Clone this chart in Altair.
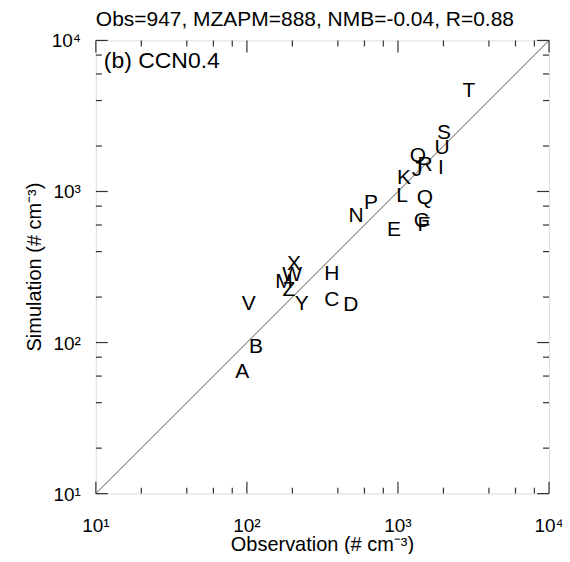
import altair as alt
import pandas as pd

# ---- data ----
site = list("ABCDEFGHIJKLMNOPQRSTUVWXYZ")
obs = [93, 115, 365, 488, 941, 1486, 1442, 365, 1927, 1336, 1096, 1063, 176,
       527, 1356, 663, 1510, 1510, 2018, 2953, 1956, 103, 199, 205, 231, 190]
sim = [64, 94, 190, 176, 552, 596, 633, 286, 1420, 1377, 1219, 927, 253,
       683, 1730, 833, 899, 1486, 2421, 4592, 1927, 181, 282, 329, 181, 224]

line_x = [10, 10000]
line_y = [10, 10000]

major_ticks = [10, 100, 1000, 10000]
tick_labels = ["10\u00b9", "10\u00b2", "10\u00b3", "10\u2074"]
minor_ticks = [20, 40, 60, 80, 200, 400, 600, 800, 2000, 4000, 6000, 8000]

title_text = "Obs=947, MZAPM=888, NMB=-0.04, R=0.88"
panel_label = "(b) CCN0.4"
x_title = "Observation (# cm\u207b\u00b3)"
y_title = "Simulation (# cm\u207b\u00b3)"

FONT = "Liberation Sans"
W, H = 454, 454
MAJ, MIN = 12, 6

pts = pd.DataFrame({"site": site, "obs": obs, "sim": sim})
ln = pd.DataFrame({"obs": line_x, "sim": line_y})
maj_df = pd.DataFrame({"v": major_ticks, "lab": tick_labels})
min_df = pd.DataFrame({"v": minor_ticks})

xs = alt.Scale(type="log", domain=[10, 10000], nice=False)
ys = alt.Scale(type="log", domain=[10, 10000], nice=False)


def X(field):
    return alt.X(field, scale=xs, axis=None)


def Y(field):
    return alt.Y(field, scale=ys, axis=None)


diag = alt.Chart(ln).mark_line(color="#555", strokeWidth=1).encode(
    x=X("obs:Q"), y=Y("sim:Q"))

letters = alt.Chart(pts).mark_text(font=FONT, fontSize=21, color="black",
                                   align="center", baseline="middle").encode(
    x=X("obs:Q"), y=Y("sim:Q"), text="site:N")


def xticks(df, y0, y1):
    return alt.Chart(df).mark_rule(color="#333", strokeWidth=1.2).encode(
        x=X("v:Q"), y=alt.value(y0), y2=alt.value(y1))


def yticks(df, x0, x1):
    return alt.Chart(df).mark_rule(color="#333", strokeWidth=1.2).encode(
        y=Y("v:Q"), x=alt.value(x0), x2=alt.value(x1))


ticks = [
    xticks(maj_df, H, H - MAJ), xticks(min_df, H, H - MIN),
    xticks(maj_df, 0, MAJ), xticks(min_df, 0, MIN),
    yticks(maj_df, 0, MAJ), yticks(min_df, 0, MIN),
    yticks(maj_df, W, W - MAJ), yticks(min_df, W, W - MIN),
]

xlabels = alt.Chart(maj_df).mark_text(
    font=FONT, fontSize=19, color="black", align="center", baseline="alphabetic"
).encode(x=X("v:Q"), y=alt.value(H + 38), text="lab:N")

ylabels = alt.Chart(maj_df).mark_text(
    font=FONT, fontSize=19, color="black", align="right", baseline="middle", dy=1
).encode(y=Y("v:Q"), x=alt.value(-15), text="lab:N")

txt = lambda s: pd.DataFrame({"t": [s]})

xtitle = alt.Chart(txt(x_title)).mark_text(
    font=FONT, fontSize=20, color="black", align="center", baseline="middle"
).encode(x=alt.value(W / 2), y=alt.value(H + 51), text="t:N")

ytitle = alt.Chart(txt(y_title)).mark_text(
    font=FONT, fontSize=20, color="black", align="center", baseline="middle",
    angle=270
).encode(x=alt.value(-61), y=alt.value(H / 2), text="t:N")

panel = alt.Chart(txt(panel_label)).mark_text(
    font=FONT, fontSize=23, color="black", align="left", baseline="middle"
).encode(x=alt.value(8), y=alt.value(21), text="t:N")

title = alt.Chart(txt(title_text)).mark_text(
    font=FONT, fontSize=21, color="black", align="left", baseline="alphabetic"
).encode(x=alt.value(0), y=alt.value(-14), text="t:N")

chart = alt.layer(diag, *ticks, letters, xlabels, ylabels, xtitle, ytitle,
                  panel, title).properties(
    width=W, height=H,
    autosize=alt.AutoSizeParams(type="none"),
    padding={"left": 88, "top": 32, "right": 13, "bottom": 60},
).configure_view(stroke="#444", strokeWidth=1.2).configure(background="white")

chart.save("out.html", embed_options={"renderer": "svg", "actions": False})
